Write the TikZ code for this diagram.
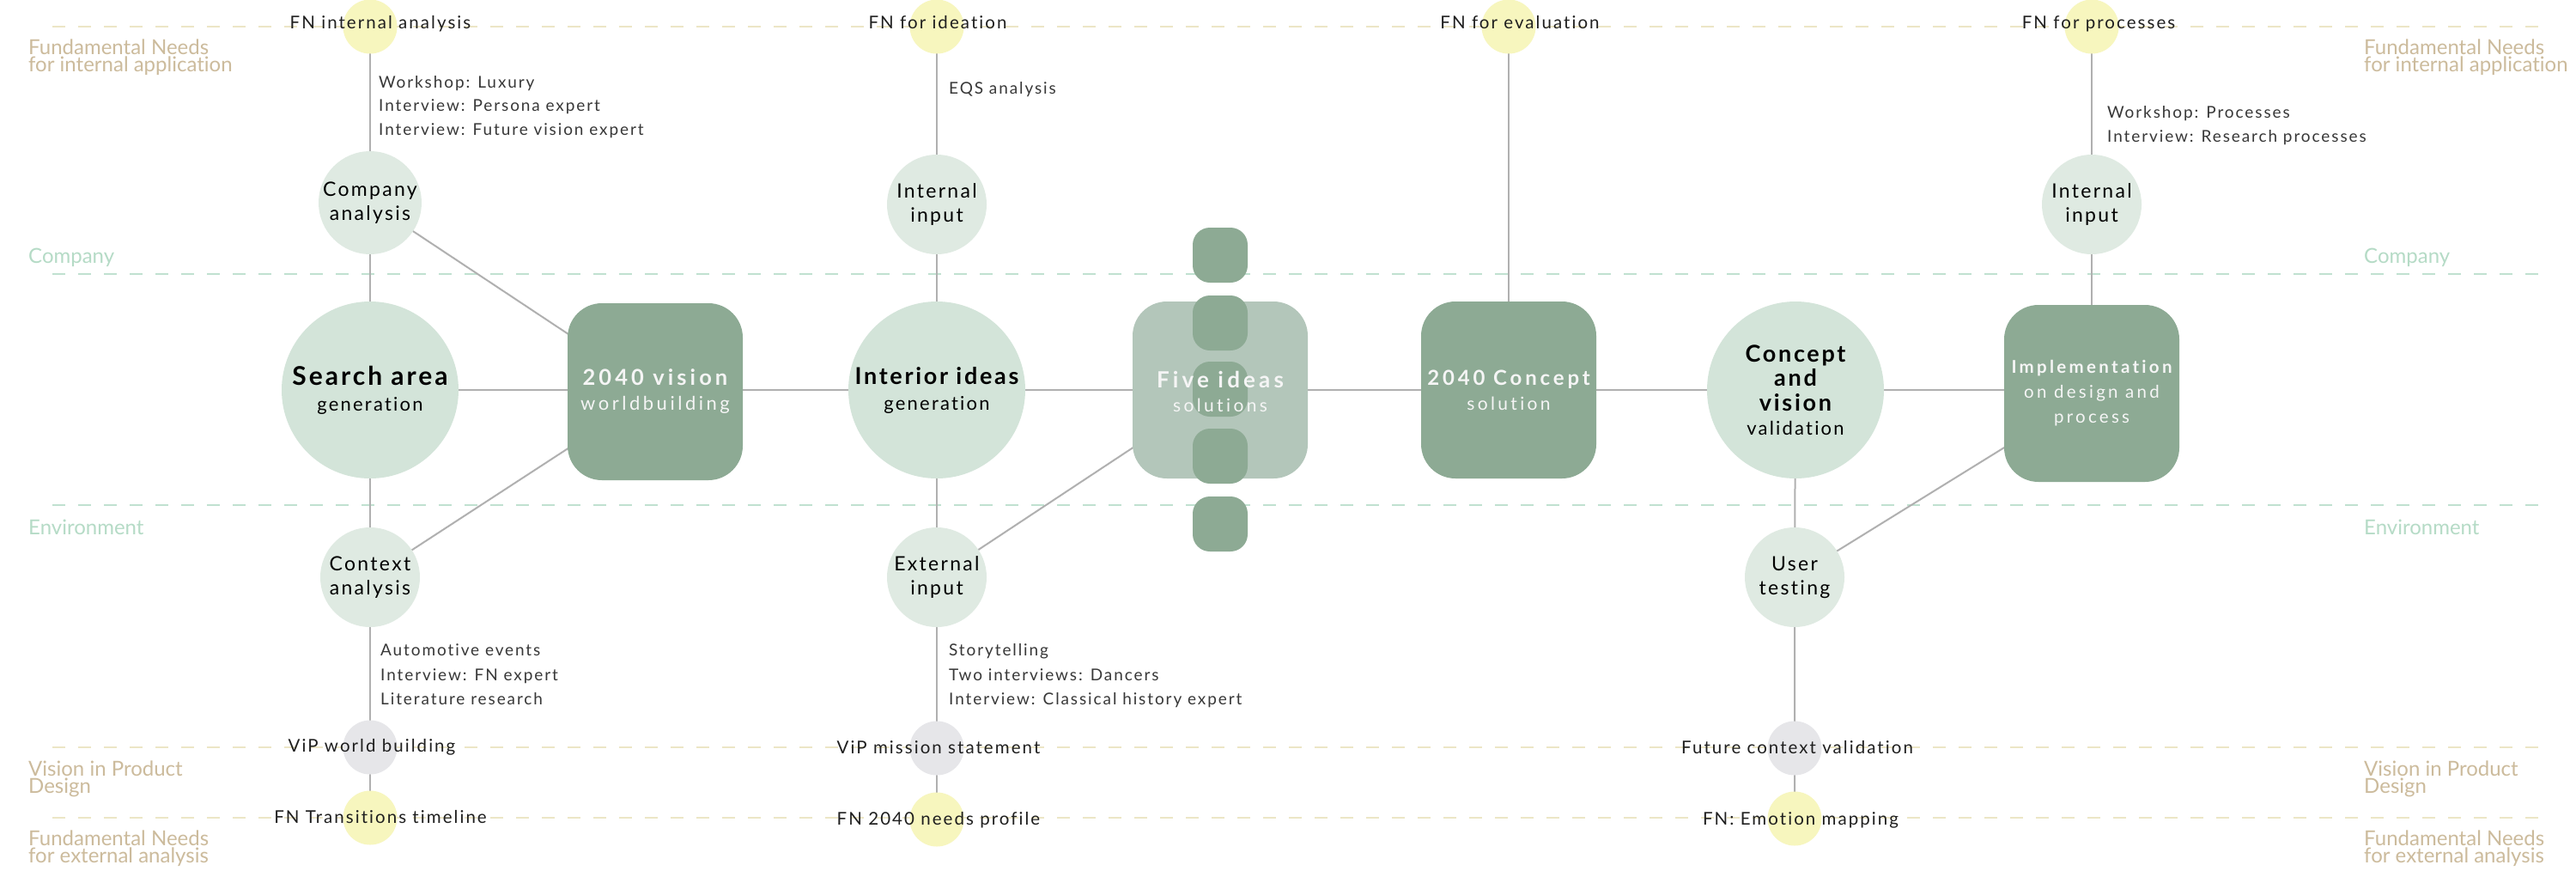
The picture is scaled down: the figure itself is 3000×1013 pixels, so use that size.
\documentclass[tikz,border=0pt]{standalone}
\usepackage{fontspec}
\setmainfont{Lato}[Ligatures=NoCommon]
\newfontfamily\trk{Lato}[LetterSpace=10, Ligatures=NoCommon]
\newfontfamily\trkw{Lato}[LetterSpace=16, Ligatures=NoCommon]
\usetikzlibrary{backgrounds}

\definecolor{fnyellow}{HTML}{F7F6BE}
\definecolor{vipgrey}{HTML}{E6E6E9}
\definecolor{mint}{HTML}{DFEAE2}
\definecolor{sage}{HTML}{D3E4D9}
\definecolor{boxgreen}{HTML}{8DAA94}
\definecolor{boxpale}{HTML}{B3C6BA}
\definecolor{tanline}{HTML}{ECE6C6}
\definecolor{mintline}{HTML}{C0E1D0}
\definecolor{tantext}{HTML}{CCBB9C}
\definecolor{minttext}{HTML}{B5DBC6}
\definecolor{wirecol}{HTML}{B0B0B0}
\definecolor{boxtext}{HTML}{F5F5F5}

\tikzset{
  fnDot/.style={circle, fill=fnyellow, minimum size=63pt, inner sep=0pt},
  vipDot/.style={circle, fill=vipgrey, minimum size=63pt, inner sep=0pt},
  subNode/.style={circle, fill=mint, minimum size=116pt, inner sep=0pt, align=center,
    text=black, font=\trk\fontsize{23}{28}\selectfont},
  mainNode/.style={circle, fill=sage, minimum size=206pt, inner sep=0pt, align=center,
    text=black, font=\trk\fontsize{22}{30}\selectfont},
  stageBox/.style={rectangle, rounded corners=40pt, fill=boxgreen, minimum width=204pt,
    minimum height=206pt, inner sep=0pt, align=center, text=boxtext,
    font=\trkw\fontsize{20}{29}\selectfont},
  ideaPill/.style={rectangle, rounded corners=20pt, fill=boxgreen, minimum size=64pt, inner sep=0pt},
  fnText/.style={anchor=base, inner sep=0pt, text=black!88, font=\trk\fontsize{20.5}{24}\selectfont},
  noteText/.style={anchor=base west, inner sep=0pt, text=black!78, font=\trk\fontsize{19}{24}\selectfont},
  bandText/.style={anchor=base west, inner sep=0pt, font=\fontsize{24}{24}\selectfont},
  wireLine/.style={draw=wirecol, line width=2pt},
  bandLine/.style={line width=2pt, dash pattern=on 15pt off 15pt},
}

\begin{document}
\begin{tikzpicture}[x=1pt,y=-1pt]
\useasboundingbox (0,0) rectangle (3000,1013);

% ---- band boundaries
\coordinate (bandAl) at (61,31);  \coordinate (bandAr) at (2958,31);
\coordinate (bandBl) at (61,319); \coordinate (bandBr) at (2958,319);
\coordinate (bandCl) at (61,588); \coordinate (bandCr) at (2958,588);
\coordinate (bandDl) at (61,870); \coordinate (bandDr) at (2958,870);
\coordinate (bandEl) at (61,952); \coordinate (bandEr) at (2958,952);

% ---- column 1: search area
\node[fnDot] (fnA) at (431,31) {};
\node[subNode] (coA) at (431,236) {Company\\analysis};
\node[mainNode] (srch) at (431,454) {{\bfseries\fontsize{30}{30}\selectfont Search area}\\generation};
\node[subNode] (ctxA) at (431,672) {Context\\analysis};
\node[vipDot] (vipA) at (431,870) {};
\node[fnDot] (fnE) at (431,952) {};

% ---- vision
\node[stageBox] (visn) at (763,456) {{\bfseries\fontsize{25.5}{29}\selectfont 2040 vision}\\{\fontsize{22}{29}\selectfont worldbuilding}};

% ---- column 2: interior ideas
\node[fnDot] (fnB) at (1091,31) {};
\node[subNode] (inB) at (1091,238) {Internal\\input};
\node[mainNode] (intr) at (1091,454) {{\bfseries\fontsize{27}{30}\selectfont Interior ideas}\\generation};
\node[subNode] (exB) at (1091,672) {External\\input};
\node[vipDot] (vipB) at (1091,871) {};
\node[fnDot] (fnF) at (1091,954) {};

% ---- five ideas with its stack of solution pills
\node[stageBox, fill=boxpale] (five) at (1421,454) {};
\node[ideaPill] (pillA) at (1421,297) {};
\node[ideaPill] (pillB) at (1421,376) {};
\node[ideaPill] (pillC) at (1421,453) {};
\node[ideaPill] (pillD) at (1421,531) {};
\node[ideaPill] (pillE) at (1421,610) {};
\node[align=center, text=boxtext, inner sep=0pt, font=\trkw\fontsize{21}{28}\selectfont] (fiveT) at (1421,456)
  {{\bfseries\fontsize{26}{28}\selectfont Five ideas}\\solutions};

% ---- column 3: concept
\node[fnDot] (fnC) at (1757,31) {};
\node[stageBox] (conc) at (1757,454) {{\bfseries\fontsize{24}{30}\selectfont 2040 Concept}\\{\fontsize{21}{30}\selectfont solution}};

% ---- column 4: validation
\node[mainNode, font=\trk\fontsize{22}{28.5}\selectfont] (cval) at (2091,454)
  {{\bfseries\fontsize{27}{28.5}\selectfont Concept}\\{\bfseries\fontsize{27}{28.5}\selectfont and}\\{\bfseries\fontsize{27}{28.5}\selectfont vision}\\validation};
\node[subNode] (user) at (2090,672) {User\\testing};
\node[vipDot] (vipC) at (2090,871) {};
\node[fnDot] (fnG) at (2090,953) {};

% ---- column 5: implementation
\node[fnDot] (fnD) at (2436,31) {};
\node[subNode] (inD) at (2436,238) {Internal\\input};
\node[stageBox, font=\trkw\fontsize{20.5}{29}\selectfont] (impl) at (2436,458)
  {{\bfseries\fontsize{20.5}{29}\selectfont Implementation}\\on design and\\process};

% ---- labels of the small dots
\node[fnText] (fnAt) at (443,33) {FN internal analysis};
\node[fnText] (fnBt) at (1092,33) {FN for ideation};
\node[fnText] (fnCt) at (1770,33) {FN for evaluation};
\node[fnText] (fnDt) at (2444,33) {FN for processes};
\node[fnText] (vipAt) at (433,875) {ViP world building};
\node[fnText] (vipBt) at (1093,877) {ViP mission statement};
\node[fnText] (vipCt) at (2093,877) {Future context validation};
\node[fnText] (fnEt) at (443,958) {FN Transitions timeline};
\node[fnText] (fnFt) at (1093,960) {FN 2040 needs profile};
\node[fnText] (fnGt) at (2097,960) {FN: Emotion mapping};

% ---- method notes along the columns
\node[noteText] (ntA1) at (441,102) {Workshop: Luxury};
\node[noteText] (ntA2) at (441,129) {Interview: Persona expert};
\node[noteText] (ntA3) at (441,157) {Interview: Future vision expert};
\node[noteText] (ntB1) at (1105,109) {EQS analysis};
\node[noteText] (ntD1) at (2454,137) {Workshop: Processes};
\node[noteText] (ntD2) at (2454,165) {Interview: Research processes};
\node[noteText] (ntE1) at (443,763) {Automotive events};
\node[noteText] (ntE2) at (443,792) {Interview: FN expert};
\node[noteText] (ntE3) at (443,820) {Literature research};
\node[noteText] (ntF1) at (1105,763) {Storytelling};
\node[noteText] (ntF2) at (1105,792) {Two interviews: Dancers};
\node[noteText] (ntF3) at (1105,820) {Interview: Classical history expert};

% ---- band names, left and right
\foreach \bx/\side in {33/L, 2753/R} {
  \node[bandText, text=tantext] (fnInt1\side) at (\bx,63) {Fundamental Needs};
  \node[bandText, text=tantext] (fnInt2\side) at (\bx,83) {for internal application};
  \node[bandText, text=minttext] (comp\side) at (\bx,306) {Company};
  \node[bandText, text=minttext] (envr\side) at (\bx,622) {Environment};
  \node[bandText, text=tantext] (vip1\side) at (\bx,903) {Vision in Product};
  \node[bandText, text=tantext] (vip2\side) at (\bx,923) {Design};
  \node[bandText, text=tantext] (fnExt1\side) at (\bx,984) {Fundamental Needs};
  \node[bandText, text=tantext] (fnExt2\side) at (\bx,1004) {for external analysis};
}

% ---- lines behind the shapes
\begin{scope}[on background layer]
  \fill[white] (0,0) rectangle (3000,1013);
  \draw[bandLine, draw=tanline]  (bandAl) -- (bandAr);
  \draw[bandLine, draw=mintline] (bandBl) -- (bandBr);
  \draw[bandLine, draw=mintline] (bandCl) -- (bandCr);
  \draw[bandLine, draw=tanline]  (bandDl) -- (bandDr);
  \draw[bandLine, draw=tanline]  (bandEl) -- (bandEr);

  \draw[wireLine] (fnA.center) -- (coA.center) -- (srch.center) -- (ctxA.center) -- (vipA.center) -- (fnE.center);
  \draw[wireLine] (fnB.center) -- (inB.center) -- (intr.center) -- (exB.center) -- (vipB.center) -- (fnF.center);
  \draw[wireLine] (fnC.center) -- (conc.center);
  \draw[wireLine] (cval.center) -- (user.center) -- (vipC.center) -- (fnG.center);
  \draw[wireLine] (fnD.center) -- (inD.center) -- (impl.center);
  % main process axis, straight through every stage
  \draw[wireLine] (srch.center) -- (srch.center -| impl.center);
  \draw[wireLine] (coA.center) -- (visn.center);
  \draw[wireLine] (ctxA.center) -- (visn.center);
  \draw[wireLine] (exB.center) -- (five.center);
  \draw[wireLine] (user.center) -- (impl.center);
\end{scope}
\end{tikzpicture}
\end{document}
